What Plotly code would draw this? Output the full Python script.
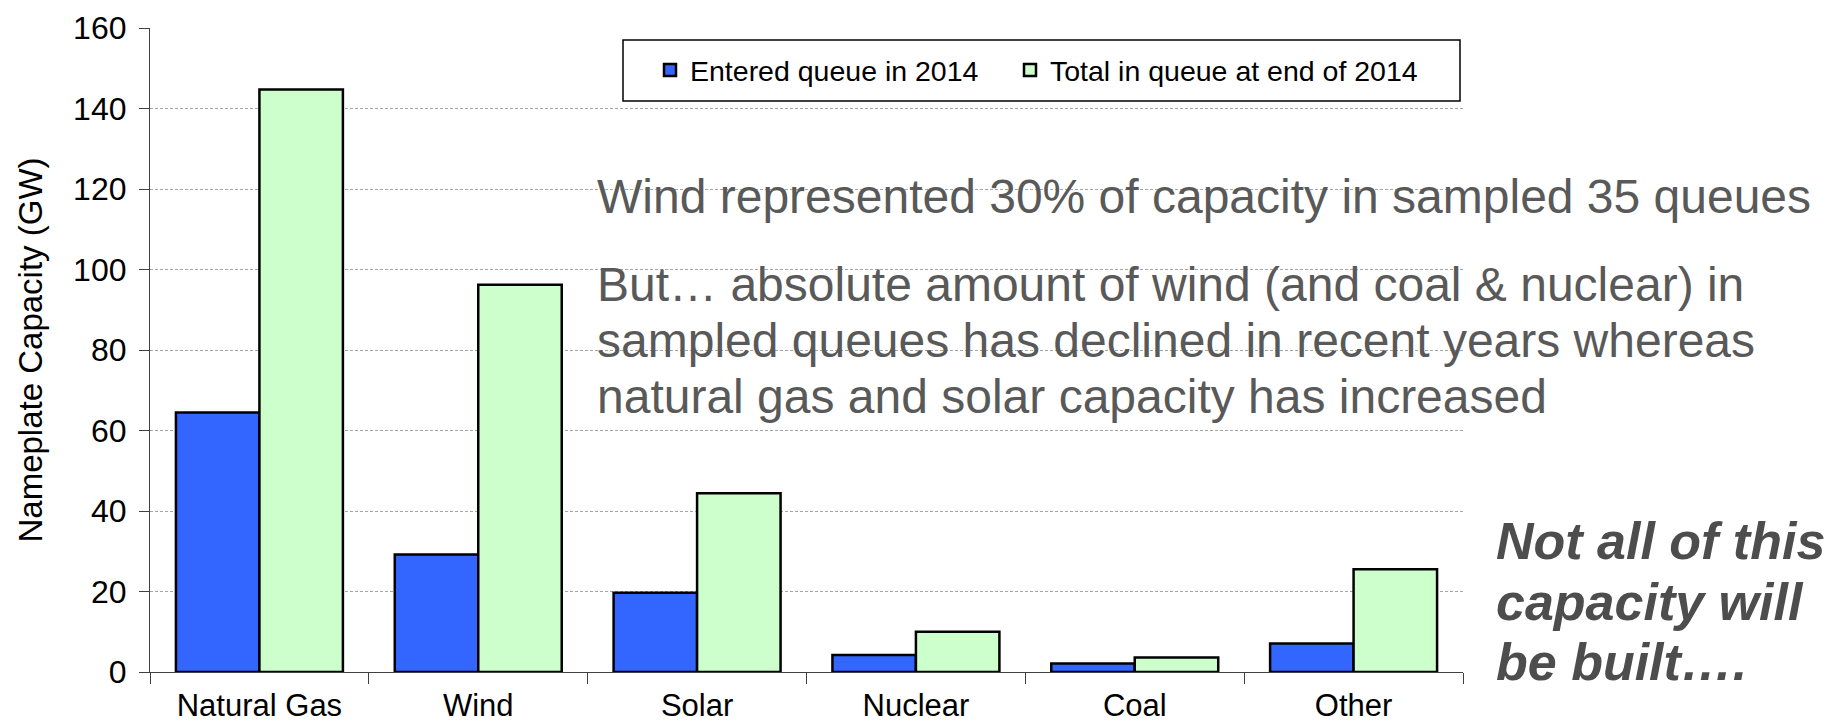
import plotly.graph_objects as go

categories = ["Natural Gas", "Wind", "Solar", "Nuclear", "Coal", "Other"]
entered_2014 = [64.5, 29.2, 19.7, 4.2, 2.1, 7.1]
total_end_2014 = [144.7, 96.2, 44.4, 10.0, 3.6, 25.5]
series_names = ["Entered queue in 2014", "Total in queue at end of 2014"]
y_ticks = [0, 20, 40, 60, 80, 100, 120, 140, 160]

# page is rendered with an 8px body margin; work in page pixels
OFF = 8
PAGE_W, PAGE_H = 1835, 726
W, H = PAGE_W - OFF, PAGE_H - OFF
L, R, T, B = 150, 1463, 28, 672  # plot area in page pixels


def px(x):
    return (x - L) / (R - L)


def py(y):
    return (B - y) / (B - T)


fig = go.Figure()
fig.add_trace(go.Bar(
    x=categories, y=entered_2014, name=series_names[0], legend="legend",
    marker=dict(color="#3366FF", line=dict(color="#000000", width=2.5)),
))
fig.add_trace(go.Bar(
    x=categories, y=total_end_2014, name=series_names[1], legend="legend2",
    marker=dict(color="#CCFFCC", line=dict(color="#000000", width=2.5)),
))

font_family = "Liberation Sans, Arial, sans-serif"

# legend frame
fig.add_shape(
    type="rect", xref="paper", yref="paper",
    x0=px(623), x1=px(1460), y0=py(101), y1=py(40),
    line=dict(color="#000000", width=1.5), fillcolor="white", layer="above",
)

legend_common = dict(
    orientation="h", yanchor="middle", xanchor="left",
    borderwidth=0, bgcolor="rgba(0,0,0,0)",
    font=dict(size=28.5, color="#000000", family=font_family),
)

fig.update_layout(
    width=W, height=H,
    margin=dict(l=L - OFF, r=W - (R - OFF), t=T - OFF, b=H - (B - OFF), autoexpand=False),
    paper_bgcolor="white", plot_bgcolor="white",
    barmode="group", bargap=0.237, bargroupgap=0,
    font=dict(family=font_family, color="#000000"),
    showlegend=True,
    legend=dict(x=px(650), y=py(70.5), **legend_common),
    legend2=dict(x=px(1010), y=py(70.5), **legend_common),
    xaxis=dict(
        type="category", tickson="boundaries",
        ticks="outside", ticklen=11, tickwidth=1.2, tickcolor="#404040",
        showline=True, linecolor="#404040", linewidth=1.2,
        showgrid=False, zeroline=False,
        tickfont=dict(size=31, color="#000000"),
        ticklabelstandoff=6,
        fixedrange=True,
    ),
    yaxis=dict(
        range=[0, 160], tickvals=y_ticks,
        ticks="outside", ticklen=10, tickwidth=1.2, tickcolor="#404040",
        showline=True, linecolor="#404040", linewidth=1.2,
        showgrid=True, gridcolor="#a6a6a6", gridwidth=1, griddash="3px,2px",
        zeroline=False,
        tickfont=dict(size=32, color="#000000"),
        ticklabelstandoff=6,
        title=dict(text="Nameplate Capacity (GW)", font=dict(size=33, color="#000000"), standoff=20),
        fixedrange=True,
    ),
)

gray = "#595959"
text_lines = [
    ("Wind represented 30% of capacity in sampled 35 queues", 207),
    ("But… absolute amount of wind (and coal & nuclear) in", 295),
    ("sampled queues has declined in recent years whereas", 351),
    ("natural gas and solar capacity has increased", 407),
]
for txt, base in text_lines:
    fig.add_annotation(
        text=txt, xref="paper", yref="paper",
        x=px(595), y=py(base - 11), xanchor="left", yanchor="middle",
        showarrow=False, font=dict(size=48, color=gray, family=font_family),
    )

note_lines = [
    ("<b><i>Not all of this</i></b>", 552),
    ("<b><i>capacity will</i></b>", 613),
    ("<b><i>be built….</i></b>", 673),
]
for txt, base in note_lines:
    fig.add_annotation(
        text=txt, xref="paper", yref="paper",
        x=px(1494), y=py(base - 11), xanchor="left", yanchor="middle",
        showarrow=False, font=dict(size=52, color="#4d4d4d", family=font_family),
    )

fig.write_html("out.html")
